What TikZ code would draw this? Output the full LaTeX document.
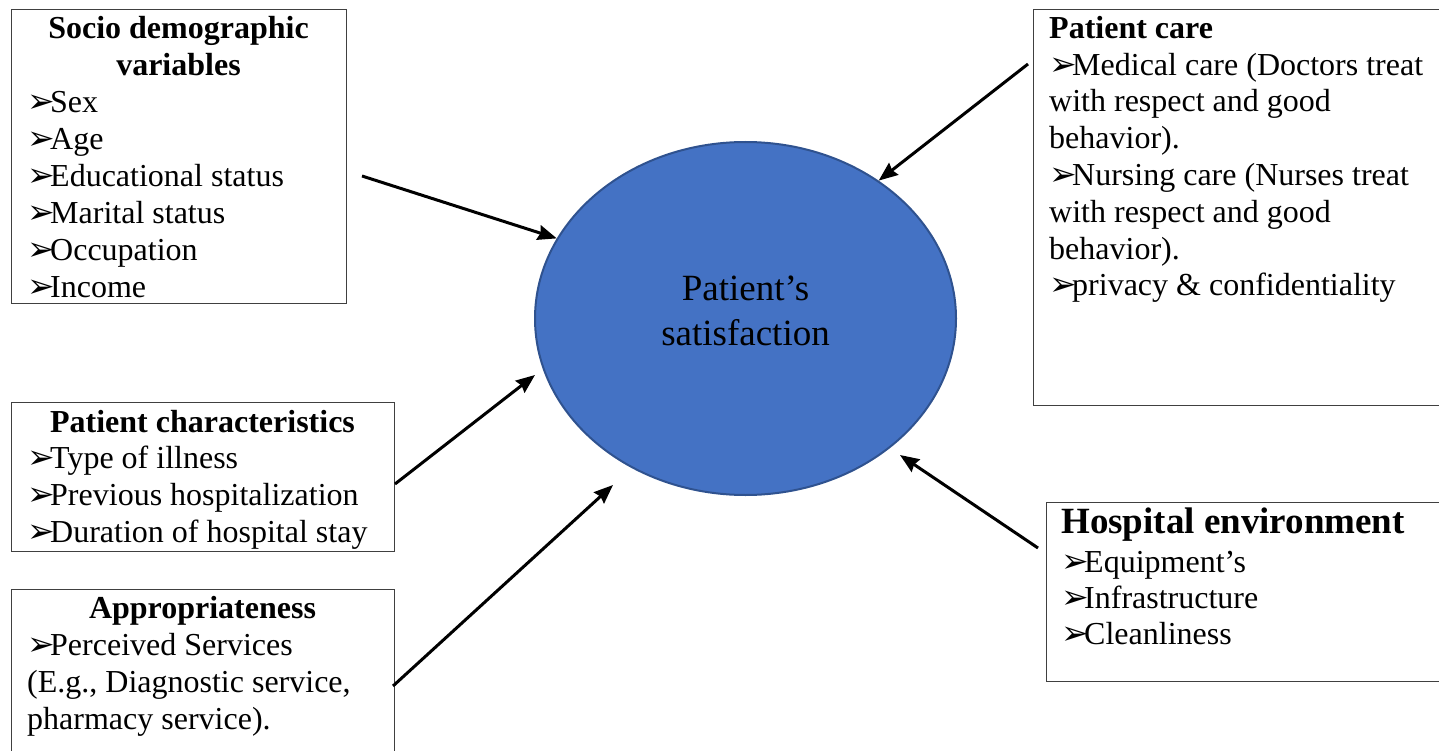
\documentclass[tikz,border=0pt]{standalone}
\usepackage{fontspec}
\setmainfont{Liberation Serif}
\newfontfamily\dejavu{DejaVu Sans}
\usetikzlibrary{shapes.geometric,arrows.meta}
\definecolor{azul}{HTML}{4472C4}
\definecolor{azulborda}{HTML}{2F528F}
\newcommand\bul{\makebox[23pt][l]{\dejavu\fontsize{33}{33}\selectfont ➢}}
\tikzset{
    caixa/.style={draw=black!75, line width=1.3pt, anchor=north west, inner sep=0pt},
    titulo/.style={inner sep=0pt, align=center, font=\fontsize{32}{37}\selectfont\bfseries},
    lista/.style={inner sep=0pt, anchor=north west, align=left, font=\fontsize{32}{37}\selectfont},
    seta/.style={line width=3pt, -{Stealth[length=19pt,width=15pt,inset=2pt]}}
}
\begin{document}
\begin{tikzpicture}[x=1pt,y=-1pt]
        \useasboundingbox (0,0) rectangle (1439,751);
        
        \node[ellipse, fill=azul, draw=azulborda, line width=2pt, minimum width=421pt, minimum height=353pt] (sat) at (745.5,318.5) {};
        \node[inner sep=0pt, align=center, font=\fontsize{37}{45}\selectfont] (satT) at (745.5,311) {Patient’s\\satisfaction};
        
        % Caixas
        \node[caixa, minimum width=335pt, minimum height=294pt] (socio) at (11,9) {};
        \node[caixa, minimum width=383pt, minimum height=149pt] (carac) at (11,402) {};
        \node[caixa, minimum width=383pt, minimum height=200pt] (aprop) at (11,589) {};
        \node[caixa, minimum width=410pt, minimum height=396pt] (cuidado) at (1033,9) {};
        \node[caixa, minimum width=400pt, minimum height=179pt] (ambiente) at (1046,502) {};
        
        % Textos das caixas
        \node[titulo, anchor=north] (socioT) at (178.5,12.1) {\strut Socio demographic\\variables};
        \node[lista] (socioL) at (27,86.1) {\strut\bul Sex\\\bul Age\\\bul Educational status\\\bul Marital status\\\bul Occupation\\\bul Income};
        
        \node[titulo, anchor=north] (caracT) at (202.5,406.1) {\strut Patient characteristics};
        \node[lista] (caracL) at (27,442.1) {\strut\bul Type of illness\\\bul Previous hospitalization\\\bul Duration of hospital stay};
        
        \node[titulo, anchor=north] (apropT) at (202.5,592.1) {\strut Appropriateness};
        \node[lista] (apropL) at (27,629.1) {\strut\bul Perceived Services\\(E.g., Diagnostic service,\\pharmacy service).};
        
        \node[titulo, anchor=north west] (cuidadoT) at (1049,12.1) {\strut Patient care};
        \node[lista, font=\fontsize{32}{36.8}\selectfont] (cuidadoL) at (1049,49.2) {\strut\bul Medical care (Doctors treat\\with respect and good\\behavior).\\\bul Nursing care (Nurses treat\\with respect and good\\behavior).\\\bul privacy \& confidentiality};
        
        \node[titulo, anchor=north west, font=\fontsize{37}{42}\selectfont\bfseries] (ambienteT) at (1061,503.6) {\strut Hospital environment};
        \node[lista, font=\fontsize{32}{36}\selectfont] (ambienteL) at (1061,546.8) {\strut\bul Equipment’s\\\bul Infrastructure\\\bul Cleanliness};
        
        % Setas
        \coordinate (t1) at (362,176);
        \coordinate (t2) at (395,484);
        \coordinate (h2) at (535,375);
        \coordinate (t3) at (393,686);
        \coordinate (h3) at (613,485);
        \coordinate (t4) at (1028,64);
        \coordinate (t5) at (1038,548);
        \coordinate (h5) at (900,455);
        
        \draw[seta] (t1) -- (sat.157);
        \draw[seta] (t2) -- (h2);
        \draw[seta] (t3) -- (h3);
        \draw[seta] (t4) -- (sat.46.5);
        \draw[seta] (t5) -- (h5);
        
    \end{tikzpicture}
\end{document}
